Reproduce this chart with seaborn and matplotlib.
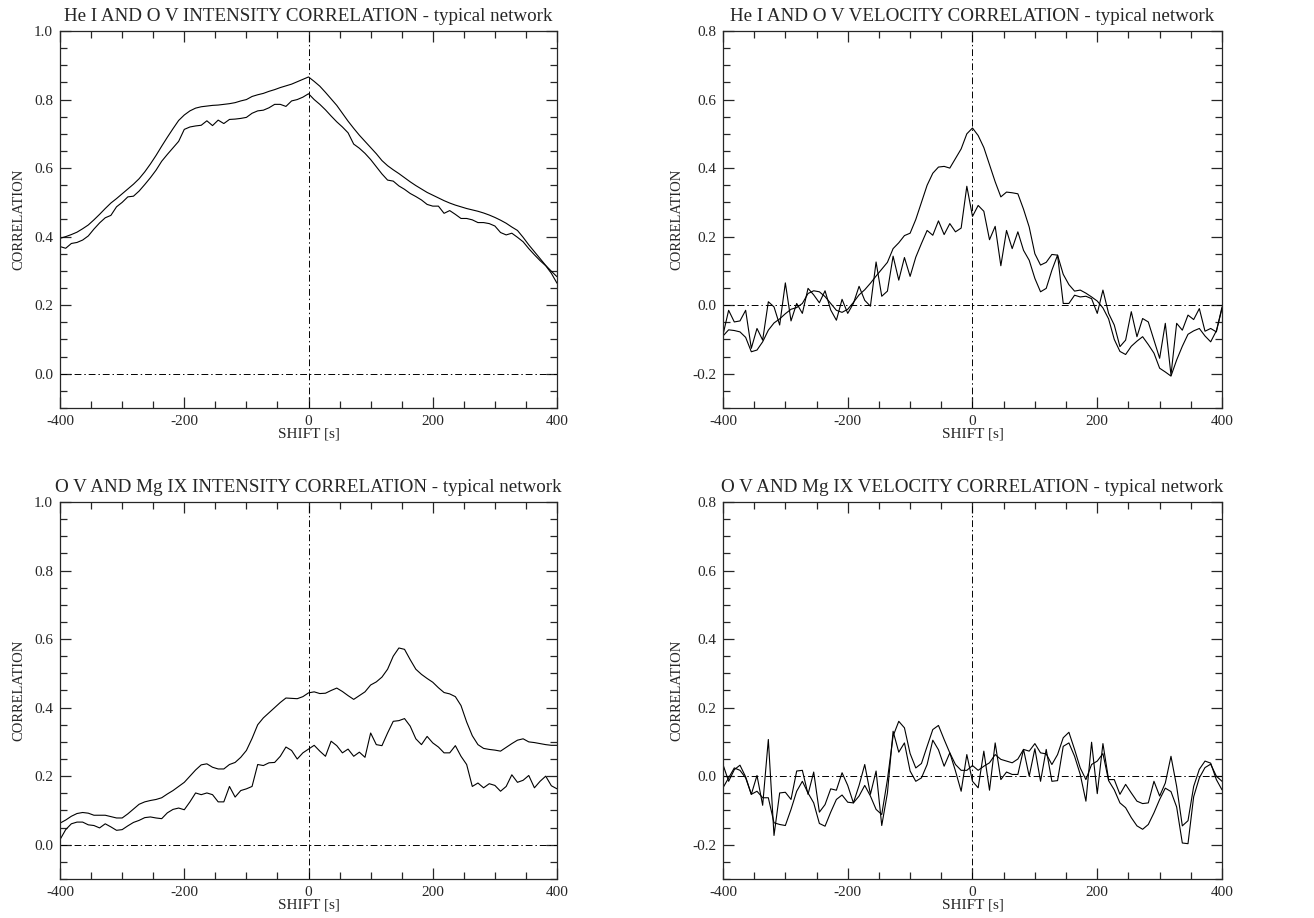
import numpy as np
import pandas as pd
import seaborn as sb
import matplotlib.pyplot as plt
from matplotlib.ticker import MultipleLocator

# lag grid: 89 samples from -400 s to 400 s
SHIFT = np.linspace(-400, 400, 89)

# He I / O V intensity
int_heov_top = [0.395, 0.400, 0.406, 0.413, 0.423, 0.434, 0.449, 0.465, 0.482, 0.498,
                0.511, 0.525, 0.539, 0.553, 0.569, 0.589, 0.612, 0.637, 0.664, 0.690,
                0.715, 0.739, 0.755, 0.767, 0.775, 0.779, 0.781, 0.783, 0.784, 0.786,
                0.788, 0.791, 0.796, 0.800, 0.809, 0.814, 0.818, 0.824, 0.829, 0.835,
                0.840, 0.845, 0.852, 0.859, 0.866, 0.853, 0.839, 0.821, 0.802, 0.783,
                0.760, 0.737, 0.716, 0.696, 0.678, 0.660, 0.642, 0.622, 0.607, 0.595,
                0.584, 0.572, 0.560, 0.549, 0.539, 0.529, 0.521, 0.513, 0.505, 0.498,
                0.492, 0.487, 0.482, 0.478, 0.474, 0.469, 0.463, 0.456, 0.448, 0.439,
                0.428, 0.418, 0.398, 0.376, 0.356, 0.336, 0.316, 0.299, 0.283]
int_heov_low = [0.371, 0.366, 0.380, 0.383, 0.390, 0.402, 0.422, 0.440, 0.455, 0.462,
                0.487, 0.500, 0.516, 0.518, 0.533, 0.552, 0.572, 0.594, 0.620, 0.640,
                0.659, 0.678, 0.713, 0.720, 0.723, 0.725, 0.738, 0.724, 0.740, 0.730,
                0.742, 0.743, 0.745, 0.748, 0.760, 0.767, 0.769, 0.776, 0.786, 0.786,
                0.780, 0.796, 0.800, 0.807, 0.817, 0.800, 0.786, 0.770, 0.752, 0.735,
                0.720, 0.703, 0.670, 0.658, 0.643, 0.625, 0.604, 0.583, 0.565, 0.562,
                0.548, 0.538, 0.526, 0.517, 0.507, 0.494, 0.489, 0.489, 0.468, 0.476,
                0.465, 0.453, 0.453, 0.449, 0.441, 0.441, 0.438, 0.431, 0.412, 0.405,
                0.410, 0.398, 0.385, 0.365, 0.347, 0.330, 0.315, 0.293, 0.264]

# He I / O V velocity
vel_heov_smooth = [-0.090, -0.072, -0.074, -0.078, -0.094, -0.136, -0.131, -0.107, -0.073, -0.052,
                   -0.040, -0.025, -0.012, -0.007, 0.005, 0.034, 0.042, 0.039, 0.025, 0.005,
                   -0.015, -0.021, -0.012, 0.008, 0.030, 0.045, 0.064, 0.085, 0.105, 0.125,
                   0.165, 0.182, 0.203, 0.210, 0.250, 0.300, 0.350, 0.385, 0.403, 0.405,
                   0.400, 0.428, 0.456, 0.500, 0.517, 0.495, 0.460, 0.410, 0.360, 0.316,
                   0.330, 0.328, 0.325, 0.280, 0.228, 0.150, 0.117, 0.125, 0.148, 0.146,
                   0.090, 0.060, 0.041, 0.044, 0.035, 0.024, 0.012, -0.008, -0.040, -0.100,
                   -0.135, -0.144, -0.120, -0.105, -0.092, -0.115, -0.140, -0.184, -0.195, -0.207,
                   -0.160, -0.120, -0.085, -0.075, -0.068, -0.090, -0.107, -0.075, -0.010]
vel_heov_jag = [-0.087, -0.015, -0.049, -0.046, -0.015, -0.126, -0.068, -0.102, 0.010, -0.005,
                -0.058, 0.065, -0.046, 0.005, -0.024, 0.049, 0.030, 0.007, 0.042, -0.014,
                -0.044, 0.017, -0.024, 0.005, 0.055, 0.014, -0.003, 0.126, 0.026, 0.041,
                0.143, 0.073, 0.139, 0.084, 0.140, 0.180, 0.218, 0.204, 0.246, 0.206,
                0.238, 0.214, 0.225, 0.347, 0.259, 0.291, 0.274, 0.191, 0.230, 0.115,
                0.218, 0.165, 0.214, 0.160, 0.131, 0.078, 0.039, 0.049, 0.102, 0.146,
                0.005, 0.005, 0.029, 0.024, 0.026, 0.019, -0.024, 0.044, -0.024, -0.058,
                -0.121, -0.102, -0.019, -0.092, -0.039, -0.049, -0.102, -0.155, -0.053, -0.204,
                -0.053, -0.073, -0.029, -0.042, -0.010, -0.076, -0.068, -0.078, -0.005]

# O V / Mg IX intensity
int_ovmg_top = [0.063, 0.072, 0.083, 0.091, 0.094, 0.092, 0.086, 0.086, 0.086, 0.082,
                0.078, 0.078, 0.090, 0.104, 0.118, 0.125, 0.129, 0.132, 0.137, 0.148,
                0.158, 0.170, 0.182, 0.200, 0.218, 0.233, 0.236, 0.226, 0.221, 0.221,
                0.234, 0.240, 0.255, 0.275, 0.310, 0.350, 0.370, 0.385, 0.400, 0.415,
                0.428, 0.427, 0.426, 0.432, 0.443, 0.446, 0.441, 0.442, 0.450, 0.457,
                0.447, 0.435, 0.424, 0.435, 0.446, 0.466, 0.475, 0.489, 0.512, 0.550,
                0.574, 0.570, 0.540, 0.512, 0.497, 0.485, 0.474, 0.458, 0.444, 0.440,
                0.432, 0.406, 0.358, 0.318, 0.292, 0.281, 0.278, 0.276, 0.273, 0.284,
                0.295, 0.305, 0.309, 0.300, 0.298, 0.295, 0.292, 0.290, 0.290]
int_ovmg_low = [0.015, 0.044, 0.061, 0.066, 0.066, 0.058, 0.056, 0.049, 0.061, 0.052,
                0.042, 0.044, 0.055, 0.065, 0.071, 0.079, 0.081, 0.078, 0.076, 0.093,
                0.103, 0.107, 0.102, 0.125, 0.151, 0.146, 0.151, 0.146, 0.125, 0.125,
                0.170, 0.139, 0.158, 0.163, 0.170, 0.234, 0.231, 0.239, 0.240, 0.258,
                0.285, 0.275, 0.250, 0.268, 0.279, 0.290, 0.273, 0.258, 0.302, 0.289,
                0.268, 0.279, 0.258, 0.270, 0.255, 0.326, 0.292, 0.289, 0.326, 0.360,
                0.362, 0.368, 0.346, 0.309, 0.292, 0.316, 0.297, 0.285, 0.268, 0.268,
                0.289, 0.258, 0.234, 0.170, 0.180, 0.166, 0.178, 0.173, 0.156, 0.170,
                0.204, 0.182, 0.188, 0.202, 0.166, 0.185, 0.200, 0.172, 0.163]

# O V / Mg IX velocity
vel_ovmg_a = [0.034, -0.015, 0.019, 0.032, -0.002, -0.053, 0.002, -0.085, 0.107, -0.173,
              -0.049, -0.047, -0.068, 0.015, 0.017, -0.053, 0.012, -0.105, -0.083, -0.037,
              -0.041, 0.010, -0.027, -0.078, -0.027, 0.034, -0.053, 0.015, -0.144, -0.049,
              0.131, 0.070, 0.097, 0.015, -0.015, -0.005, 0.034, 0.105, 0.077, 0.029,
              0.068, 0.015, -0.044, 0.063, -0.015, -0.034, 0.073, -0.041, 0.097, -0.010,
              0.012, 0.005, 0.005, 0.078, 0.000, 0.080, -0.015, 0.078, -0.015, -0.013,
              0.087, 0.097, 0.058, 0.005, -0.073, 0.099, -0.051, 0.095, -0.010, -0.010,
              -0.053, -0.024, -0.049, -0.073, -0.080, -0.078, -0.015, -0.058, -0.020, 0.058,
              -0.030, -0.145, -0.130, -0.030, 0.020, 0.044, 0.038, -0.010, -0.040]
vel_ovmg_b = [-0.034, -0.005, 0.024, 0.017, -0.005, -0.053, -0.044, -0.063, -0.063, -0.136,
              -0.141, -0.144, -0.097, -0.044, -0.015, -0.049, -0.078, -0.138, -0.146, -0.105,
              -0.068, -0.055, -0.076, -0.078, -0.058, -0.027, -0.058, -0.097, -0.112, -0.010,
              0.117, 0.160, 0.141, 0.066, 0.024, 0.037, 0.087, 0.136, 0.148, 0.107,
              0.068, 0.034, 0.017, 0.017, 0.031, 0.017, 0.029, 0.039, 0.063, 0.049,
              0.044, 0.039, 0.050, 0.078, 0.073, 0.095, 0.068, 0.065, 0.034, 0.063,
              0.112, 0.128, 0.078, 0.024, -0.010, 0.034, 0.044, 0.066, -0.013, -0.040,
              -0.078, -0.092, -0.121, -0.145, -0.155, -0.141, -0.107, -0.068, -0.035, -0.045,
              -0.090, -0.195, -0.197, -0.060, -0.005, 0.025, 0.035, 0.000, -0.015]

panels = [
    ("He I AND O V INTENSITY CORRELATION - typical network", int_heov_top, int_heov_low, (-0.1, 1.0)),
    ("He I AND O V VELOCITY CORRELATION - typical network", vel_heov_smooth, vel_heov_jag, (-0.3, 0.8)),
    ("O V AND Mg IX INTENSITY CORRELATION - typical network", int_ovmg_top, int_ovmg_low, (-0.1, 1.0)),
    ("O V AND Mg IX VELOCITY CORRELATION - typical network", vel_ovmg_a, vel_ovmg_b, (-0.3, 0.8)),
]
boxes = [[0.0457, 0.5556, 0.3782, 0.4106],
         [0.5502, 0.5556, 0.3798, 0.4106],
         [0.0457, 0.0425, 0.3782, 0.4107],
         [0.5502, 0.0425, 0.3798, 0.4107]]

sb.set_style("ticks")
plt.rcParams['font.family'] = ['Liberation Serif', 'DejaVu Serif']
plt.rcParams['axes.linewidth'] = 0.9
plt.rcParams['axes.unicode_minus'] = False

fig = plt.figure(figsize=(13.14, 9.18), dpi=100, facecolor='w')

for (title, s1, s2, ylim), box in zip(panels, boxes):
    ax = fig.add_axes(box)
    df = pd.DataFrame({"shift": np.concatenate([SHIFT, SHIFT]),
                       "corr": s1 + s2,
                       "curve": ["a"] * len(s1) + ["b"] * len(s2)})
    sb.lineplot(data=df, x="shift", y="corr", hue="curve", units="curve",
                estimator=None, palette=["k", "k"], linewidth=0.8,
                legend=False, ax=ax)
    ax.axvline(0, color='k', lw=0.7, ls=(0, (7, 3, 1.5, 3)))
    ax.axhline(0, color='k', lw=0.7, ls=(0, (7, 3, 1.5, 3)))
    ax.set_xlim(-400, 400)
    ax.set_ylim(*ylim)
    ax.xaxis.set_major_locator(MultipleLocator(200))
    ax.xaxis.set_minor_locator(MultipleLocator(50))
    ax.yaxis.set_major_locator(MultipleLocator(0.2))
    ax.yaxis.set_minor_locator(MultipleLocator(0.05))
    ax.yaxis.set_major_formatter(plt.FuncFormatter(lambda v, p: "%.1f" % (0.0 if abs(v) < 1e-9 else v)))
    ax.tick_params(which='both', direction='in', top=True, right=True,
                   labelsize=11, width=0.9, pad=5)
    ax.tick_params(which='major', length=8)
    ax.tick_params(which='minor', length=5)
    ax.set_xlabel("SHIFT [s]", fontsize=11, labelpad=0)
    ax.set_ylabel("CORRELATION", fontsize=10.5, labelpad=6)
    ax.set_title(title, fontsize=13.7, pad=7)

fig.savefig("out.png", dpi=100)
